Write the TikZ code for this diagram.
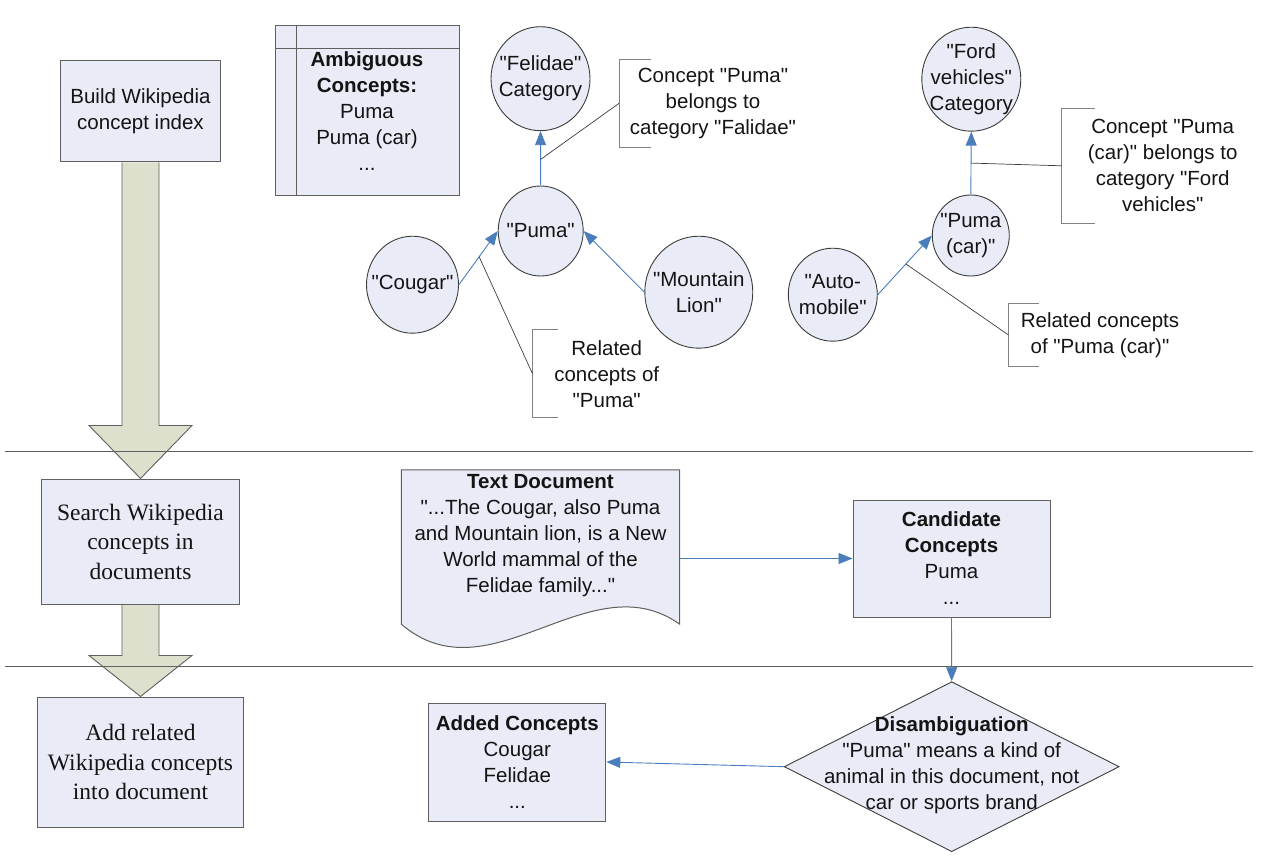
\documentclass[tikz,border=0pt]{standalone}
\usepackage{fontspec}
\setmainfont{Liberation Sans}[Ligatures=TeXOff]
\newfontfamily\tmsfont{Liberation Serif}[Ligatures=TeXOff]
\usetikzlibrary{shapes.geometric,arrows.meta,calc,backgrounds}
\definecolor{boxfill}{RGB}{233,236,247}
\definecolor{arrfill}{RGB}{221,224,204}
\definecolor{conblue}{RGB}{74,126,187}
\definecolor{edgegray}{RGB}{95,95,95}
\definecolor{cedge}{RGB}{60,60,60}
\definecolor{brk}{RGB}{130,130,130}
\definecolor{txt}{RGB}{20,20,20}
\newcommand\afont{\fontsize{20.5}{26}\selectfont}
\newcommand\tfont{\tmsfont\fontsize{23.5}{29.5}\selectfont}
\begin{document}
\begin{tikzpicture}[x=1pt,y=-1pt,
  stepbox/.style={draw=edgegray, fill=boxfill, line width=1pt, inner sep=2pt, align=center, text=txt},
  sbox/.style={stepbox, font=\afont},
  tbox/.style={stepbox, font=\tfont},
  circ/.style={ellipse, draw=cedge, fill=boxfill, line width=0.9pt, inner sep=0pt},
  ctext/.style={align=center, font=\afont, text=txt, inner sep=0pt},
  cbox/.style={align=center, font=\afont, text=txt, inner sep=0pt},
  bracket/.style={draw=brk, line width=1pt},
  leader/.style={draw=cedge, line width=0.7pt},
  conn/.style={draw=conblue, line width=0.9pt, -{Triangle[length=14pt,width=11pt]}},
  bigarrow/.style={fill=arrfill, draw=edgegray, line width=0.9pt},
  sepline/.style={draw=edgegray, line width=1pt},
]
\useasboundingbox (0,0) rectangle (1262,856);

% ---------- left column ----------
\node[sbox, minimum width=160pt, minimum height=101pt] (build) at (140.5,111.5) {Build Wikipedia\\concept index};
\node[tbox, minimum width=198pt, minimum height=125.5pt] (search) at (140.5,541.75) {Search Wikipedia\\concepts in\\documents};
\node[tbox, minimum width=206pt, minimum height=130pt] (add) at (140.5,762) {Add related\\Wikipedia concepts\\into document};

\begin{scope}[on background layer]
\filldraw[bigarrow] ($(build.south)+(-18.5,0)$) -- ($(search.north)+(-18.5,-53)$) -- ($(search.north)+(-51.5,-53)$) -- (search.north) -- ($(search.north)+(51.5,-53)$) -- ($(search.north)+(18.5,-53)$) -- ($(build.south)+(18.5,0)$);
\filldraw[bigarrow] ($(search.south)+(-18.5,0)$) -- ($(add.north)+(-18.5,-41)$) -- ($(add.north)+(-51.5,-41)$) -- (add.north) -- ($(add.north)+(51.5,-41)$) -- ($(add.north)+(18.5,-41)$) -- ($(search.south)+(18.5,0)$);
\end{scope}

% ---------- ambiguous concepts ----------
\node[sbox, minimum width=184pt, minimum height=170pt] (amb) at (367,111) {\textbf{Ambiguous}\\\textbf{Concepts:}\\Puma\\Puma (car)\\...};
\draw[draw=edgegray, line width=1pt] ($(amb.north west)+(22,0)$) -- ($(amb.south west)+(22,0)$);
\draw[draw=edgegray, line width=1pt] ($(amb.north west)+(0,23)$) -- ($(amb.north east)+(0,23)$);

% ---------- Puma graph ----------
\node[circ, minimum width=99pt, minimum height=104pt] (felidae) at (540.5,78.7) {};
\node[ctext] (felidaeT) at (felidae.center) {"Felidae"\\Category};
\node[circ, minimum width=85pt, minimum height=90pt] (puma) at (540.7,231) {};
\node[ctext] (pumaT) at (puma.center) {"Puma"};
\node[circ, minimum width=92pt, minimum height=97pt] (cougar) at (412.5,284.7) {};
\node[ctext] (cougarT) at (cougar.center) {"Cougar"};
\node[circ, minimum width=108pt, minimum height=112pt] (ml) at (698.8,292.2) {};
\node[ctext] (mlT) at (ml.center) {"Mountain\\Lion"};

\draw[conn] (puma.north) -- coordinate[pos=0.48] (m1) (felidae.south);
\draw[conn] (cougar.east) -- coordinate[pos=0.52] (m2) (puma.west);
\draw[conn] (ml.west) -- (puma.east);

\node[cbox, minimum width=187.4pt, minimum height=88pt] (cf1) at (713,103.3) {Concept "Puma"\\belongs to\\category "Falidae"};
\draw[bracket] ($(cf1.north west)+(32,0)$) -- (cf1.north west) -- (cf1.south west) -- ($(cf1.south west)+(32,0)$);
\draw[leader] (cf1.west) -- (m1);

\node[cbox, minimum width=148pt, minimum height=87.3pt] (cr1) at (606.7,373.7) {Related\\concepts of\\"Puma"};
\draw[bracket] ($(cr1.north west)+(25,0)$) -- (cr1.north west) -- (cr1.south west) -- ($(cr1.south west)+(25,0)$);
\draw[leader] (cr1.west) -- (m2);

% ---------- Puma (car) graph ----------
\node[circ, minimum width=99pt, minimum height=104pt] (ford) at (971.3,79.2) {};
\node[ctext] (fordT) at (ford.center) {"Ford\\vehicles"\\Category};
\node[circ, minimum width=77pt, minimum height=81pt] (pumacar) at (970.8,235.5) {};
\node[ctext] (pumacarT) at (pumacar.center) {"Puma\\(car)"};
\node[circ, minimum width=89pt, minimum height=93pt] (auto) at (832.8,294.7) {};
\node[ctext] (autoT) at (auto.center) {"Auto-\\mobile"};

\draw[conn] (pumacar.north) -- coordinate[pos=0.5] (m3) (ford.south);
\draw[conn] (auto.east) -- coordinate[pos=0.52] (m4) (pumacar.west);

\node[cbox, minimum width=202pt, minimum height=115pt] (cf2) at (1162.7,165.8) {Concept "Puma\\(car)" belongs to\\category "Ford\\vehicles"};
\draw[bracket] ($(cf2.north west)+(33,0)$) -- (cf2.north west) -- (cf2.south west) -- ($(cf2.south west)+(33,0)$);
\draw[leader] (cf2.west) -- (m3);

\node[cbox, minimum width=182.6pt, minimum height=62pt] (cr2) at (1100,335) {Related concepts\\of "Puma (car)"};
\draw[bracket] ($(cr2.north west)+(30.6,0)$) -- (cr2.north west) -- (cr2.south west) -- ($(cr2.south west)+(30.6,0)$);
\draw[leader] (cr2.west) -- (m4);

% ---------- middle row ----------
\node[minimum width=278pt, minimum height=154pt, inner sep=0pt] (doc) at (540.5,547) {};
\filldraw[fill=boxfill, draw=edgegray, line width=1pt] (doc.north west) -- (doc.north east) -- (doc.south east) .. controls +(-90,-64) and +(89,76) .. (doc.south west) -- cycle;
\node[ctext] (docT) at (540.5,535.5) {\textbf{Text Document}\\"...The Cougar, also Puma\\and Mountain lion, is a New\\World mammal of the\\Felidae family..."};

\node[sbox, minimum width=197pt, minimum height=117pt] (cand) at (951.5,558.5) {\textbf{Candidate}\\\textbf{Concepts}\\Puma\\...};
\draw[conn] (doc.east |- cand.west) -- (cand.west);

% ---------- bottom row ----------
\node[diamond, draw=cedge, fill=boxfill, line width=0.9pt, inner sep=0pt, minimum width=335pt, minimum height=170pt] (dis) at (951.7,766.7) {};
\node[ctext] (disT) at (951.7,765) {\textbf{Disambiguation}\\"Puma" means a kind of\\animal in this document, not\\car or sports brand};
\draw[conn] (cand.south) -- (dis.north);

\node[sbox, minimum width=177pt, minimum height=118pt] (added) at (517.3,762) {\textbf{Added Concepts}\\Cougar\\Felidae\\...};
\draw[conn] (dis.west) -- (added.east);

% ---------- separators ----------
\draw[sepline] (5,451.3) -- (1252.7,451.3);
\draw[sepline] (5,666.7) -- (1252.7,666.7);
\end{tikzpicture}
\end{document}
